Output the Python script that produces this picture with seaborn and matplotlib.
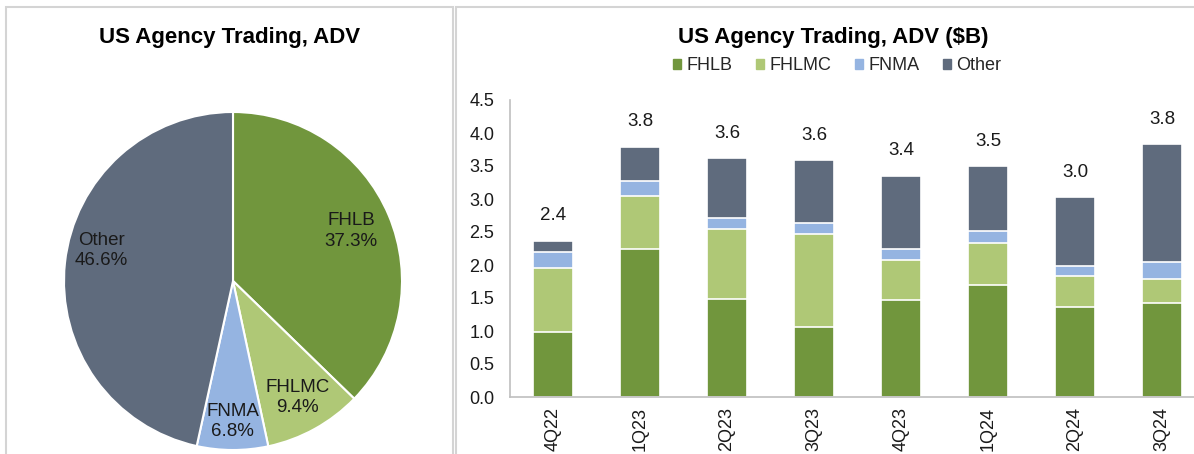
import matplotlib
matplotlib.use("Agg")
import matplotlib.pyplot as plt
import matplotlib.patches as mpatches
import numpy as np
import pandas as pd
import seaborn as sns

# pie shares
pie_names = ["FHLB", "FHLMC", "FNMA", "Other"]
pie_share = [37.3, 9.4, 6.8, 46.6]

# quarterly ADV ($B)
quarters = ["4Q22", "1Q23", "2Q23", "3Q23", "4Q23", "1Q24", "2Q24", "3Q24"]
fhlb = [0.98, 2.25, 1.49, 1.06, 1.47, 1.70, 1.37, 1.43]
fhlmc = [0.98, 0.80, 1.06, 1.41, 0.61, 0.63, 0.47, 0.36]
fnma = [0.24, 0.23, 0.16, 0.17, 0.16, 0.19, 0.15, 0.25]
other = [0.17, 0.51, 0.91, 0.95, 1.11, 0.98, 1.04, 1.79]

colors = {"FHLB": "#71963D", "FHLMC": "#AFC876", "FNMA": "#95B4E1", "Other": "#5F6B7D"}

sns.set_theme(style="white")
plt.rcParams["font.family"] = ["Liberation Sans", "DejaVu Sans"]

W, H = 1194, 454
fig = plt.figure(figsize=(W / 100, H / 100), dpi=100)

# panel frames
frame_kw = dict(transform=fig.transFigure, fill=False, edgecolor="#D4D4D4", lw=1.5)
fig.patches.append(mpatches.Rectangle((6 / W, -0.05), 447 / W, 1.05 - 7 / H, **frame_kw))
fig.patches.append(mpatches.Rectangle((456 / W, -0.05), 0.7, 1.05 - 7 / H, **frame_kw))

# ---- pie ----
cx, cy, r = 233, 281, 169
ax1 = fig.add_axes([(cx - r) / W, (H - cy - r) / H, 2 * r / W, 2 * r / H])
wedges, _ = ax1.pie(pie_share, colors=[colors[n] for n in pie_names], startangle=90,
                    counterclock=False, wedgeprops=dict(edgecolor="white", linewidth=1.5))
ax1.set_xlim(-1, 1)
ax1.set_ylim(-1, 1)
ax1.set_aspect("equal")
label_r = {"FHLB": 0.76, "FHLMC": 0.79, "FNMA": 0.83, "Other": 0.8}
for w, name, pct in zip(wedges, pie_names, pie_share):
    ang = np.deg2rad((w.theta1 + w.theta2) / 2)
    if name == "Other":
        ang = np.deg2rad(167)
    rr = label_r[name]
    ax1.text(rr * np.cos(ang), rr * np.sin(ang), f"{name}\n{pct:.1f}%", ha="center", va="center",
             fontsize=13.5, color="#1A1A1A", linespacing=1.25)
fig.text(230 / W, 1 - 37 / H, "US Agency Trading, ADV", ha="center", va="center",
         fontsize=16, fontweight="bold", color="black")

# ---- stacked bars ----
df = pd.DataFrame({"quarter": quarters, "FHLB": fhlb, "FHLMC": fhlmc, "FNMA": fnma, "Other": other})
series = ["FHLB", "FHLMC", "FNMA", "Other"]
cum = df[series].cumsum(axis=1)

ax2 = fig.add_axes([509.5 / W, (H - 397) / H, 696 / W, 297 / H])
for s in reversed(series):
    sns.barplot(x=df["quarter"], y=cum[s], color=colors[s], width=0.47, ax=ax2,
                edgecolor="white", linewidth=1.2, saturation=1)
ax2.set_ylim(0, 4.5)
ax2.set_yticks(np.arange(0, 4.51, 0.5))
ax2.set_yticklabels([f"{v:.1f}" for v in np.arange(0, 4.51, 0.5)])
ax2.set_xlabel("")
ax2.set_ylabel("")
ax2.tick_params(axis="y", length=0, pad=11, labelsize=13, labelcolor="#1A1A1A")
ax2.tick_params(axis="x", length=0, pad=7, labelsize=13, labelcolor="#1A1A1A", rotation=90)
for side in ["top", "right"]:
    ax2.spines[side].set_visible(False)
for side in ["left", "bottom"]:
    ax2.spines[side].set_color("#BFBFBF")
    ax2.spines[side].set_linewidth(1.2)

totals = cum["Other"].values
for i, t in enumerate(totals):
    ax2.annotate(f"{t:.1f}", (i, t), xytext=(0, 18), textcoords="offset points",
                 ha="center", va="center", fontsize=13.5, color="#1A1A1A")

fig.text(833 / W, 1 - 37 / H, "US Agency Trading, ADV ($B)", ha="center", va="center",
         fontsize=16, fontweight="bold", color="black")
handles = [mpatches.Patch(color=colors[s], label=s) for s in series]
fig.legend(handles=handles, loc="center", bbox_to_anchor=(837 / W, 1 - 66 / H), ncol=4,
           frameon=False, fontsize=13, handlelength=0.45, handleheight=0.45,
           handletextpad=0.3, columnspacing=1.3)

fig.savefig("out.png", dpi=100)
